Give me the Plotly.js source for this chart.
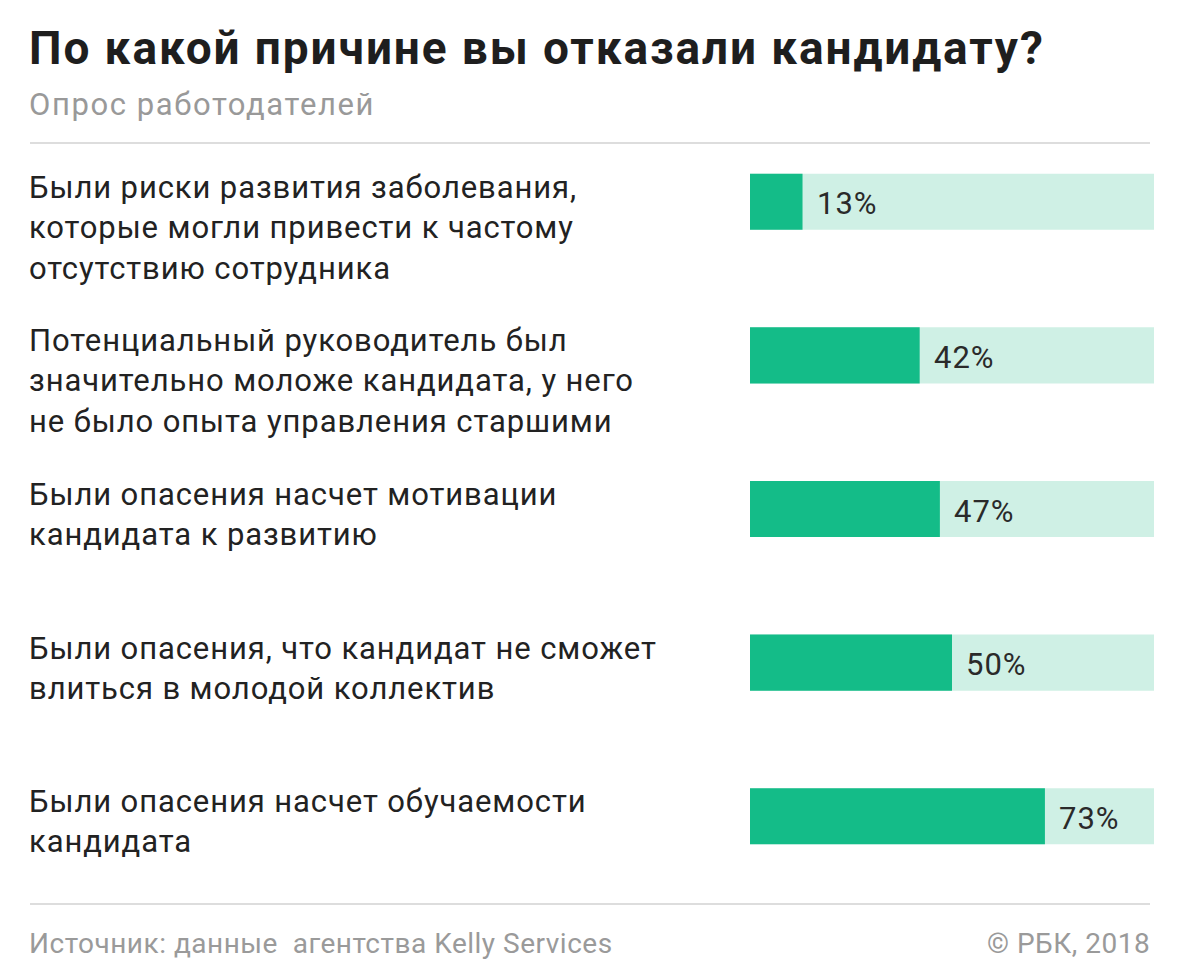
<!DOCTYPE html>
<html>
<head>
<meta charset="utf-8">
<script src="https://cdn.plot.ly/plotly-3.0.1.min.js"></script>
<style>html,body{margin:0;padding:0;background:#fff;}#chart{width:1180px;height:980px;}</style>
</head>
<body>
<div id="chart"></div>
<script>
const categories = [
  "Были риски развития заболевания,<br>которые могли привести к частому<br>отсутствию сотрудника",
  "Потенциальный руководитель был<br>значительно моложе кандидата, у него<br>не было опыта управления старшими",
  "Были опасения насчет мотивации<br>кандидата к развитию",
  "Были опасения, что кандидат не сможет<br>влиться в молодой коллектив",
  "Были опасения насчет обучаемости<br>кандидата"
];
const values = [13, 42, 47, 50, 73];
const fullScale = [100, 100, 100, 100, 100];
const valueLabels = ["13%", "42%", "47%", "50%", "73%"];
const titleText = "По какой причине вы отказали кандидату?";
const subtitleText = "Опрос работодателей";
const sourceText = "Источник: данные  агентства Kelly Services";
const creditText = "© РБК, 2018";

const W = 1180, H = 980;
const L = 750, R = 26, T = 125, B = 87;
const pw = W - L - R, ph = H - T - B;
const px = x => (x - L) / pw;
const py = y => (H - B - y) / ph;

const idx = categories.map((_, i) => i);
const font = "Roboto, 'Noto Sans', sans-serif";
const ls = (t, s) => t.split('<br>').map(l => '<span style="letter-spacing:' + s + 'px">' + l + '</span>').join('<br>');

const traces = [
  {type: 'bar', orientation: 'h', y: idx, x: fullScale, width: 0.365,
   marker: {color: '#cff0e5'}, hoverinfo: 'skip', showlegend: false},
  {type: 'bar', orientation: 'h', y: idx, x: values, width: 0.365,
   marker: {color: '#14bc88'}, hoverinfo: 'skip', showlegend: false}
];

const annotations = [];
categories.forEach((c, i) => {
  annotations.push({xref: 'paper', yref: 'y', x: px(27), y: i, yshift: 35,
    xanchor: 'left', yanchor: 'top', align: 'left', showarrow: false,
    text: ls(c, 0.9), font: {family: font, size: 31, color: '#222'}});
  annotations.push({xref: 'x', yref: 'y', x: values[i], y: i, xshift: 12, yshift: -2,
    xanchor: 'left', yanchor: 'middle', showarrow: false,
    text: ls(valueLabels[i], 1), font: {family: font, size: 31, color: '#2a2a2a'}});
});
annotations.push({xref: 'paper', yref: 'paper', x: px(27), y: py(48),
  xanchor: 'left', yanchor: 'middle', showarrow: false,
  text: '<b>' + ls(titleText, 1.9) + '</b>', font: {family: font, size: 46, color: '#1e1e1e'}});
annotations.push({xref: 'paper', yref: 'paper', x: px(27), y: py(104),
  xanchor: 'left', yanchor: 'middle', showarrow: false,
  text: ls(subtitleText, 1.6), font: {family: font, size: 31, color: '#999'}});
annotations.push({xref: 'paper', yref: 'paper', x: px(27), y: py(943),
  xanchor: 'left', yanchor: 'middle', showarrow: false,
  text: ls(sourceText, 0.5), font: {family: font, size: 28, color: '#9a9a9a'}});
annotations.push({xref: 'paper', yref: 'paper', x: px(1152), y: py(943),
  xanchor: 'right', yanchor: 'middle', showarrow: false,
  text: ls(creditText, 0.5), font: {family: font, size: 28, color: '#9a9a9a'}});

const layout = {
  width: W, height: H,
  margin: {l: L, r: R, t: T, b: B},
  paper_bgcolor: '#fff', plot_bgcolor: '#fff',
  barmode: 'overlay',
  showlegend: false,
  xaxis: {range: [0, 100], visible: false, fixedrange: true},
  yaxis: {range: [4.5, -0.5], visible: false, fixedrange: true},
  annotations: annotations,
  shapes: [
    {type: 'line', xref: 'paper', yref: 'paper', x0: px(30), x1: px(1150), y0: py(143), y1: py(143),
     line: {color: '#ddd', width: 2}},
    {type: 'line', xref: 'paper', yref: 'paper', x0: px(30), x1: px(1150), y0: py(904), y1: py(904),
     line: {color: '#ddd', width: 2}}
  ]
};

Plotly.newPlot('chart', traces, layout, {staticPlot: true, displayModeBar: false});
</script>
</body>
</html>
